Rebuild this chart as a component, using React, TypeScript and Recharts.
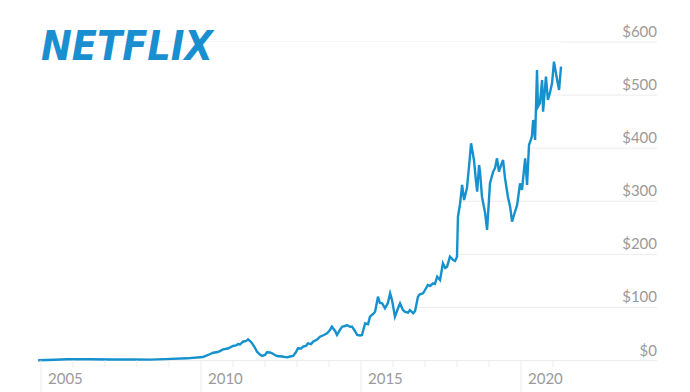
import React from "react";
import { ComposedChart, Area, Line, XAxis, YAxis, CartesianGrid } from "recharts";

// Decimal year of each observation
const years = [
  2004.91, 2005.44, 2005.81, 2006.53, 2007.16, 2007.88, 2008.41, 2008.88, 2009.56, 2010.06,
  2010.22, 2010.38, 2010.53, 2010.69, 2010.84, 2011.0, 2011.09, 2011.16, 2011.22, 2011.31,
  2011.41, 2011.47, 2011.53, 2011.59, 2011.69, 2011.75, 2011.84, 2011.91, 2012.0, 2012.06,
  2012.16, 2012.22, 2012.31, 2012.38, 2012.53, 2012.69, 2012.78, 2012.88, 2012.97, 2013.03,
  2013.13, 2013.19, 2013.28, 2013.34, 2013.44, 2013.5, 2013.63, 2013.72, 2013.84, 2013.94,
  2014.03, 2014.09, 2014.19, 2014.25, 2014.34, 2014.41, 2014.5, 2014.56, 2014.66, 2014.72,
  2014.81, 2014.88, 2014.97, 2015.03, 2015.13, 2015.22, 2015.28, 2015.38, 2015.44, 2015.53,
  2015.59, 2015.66, 2015.75, 2015.84, 2015.91, 2015.97, 2016.06, 2016.16, 2016.22, 2016.31,
  2016.38, 2016.47, 2016.53, 2016.63, 2016.69, 2016.78, 2016.84, 2016.94, 2017.0, 2017.09,
  2017.16, 2017.25, 2017.31, 2017.38, 2017.47, 2017.56, 2017.63, 2017.69, 2017.78, 2017.88,
  2017.94, 2018.0, 2018.03, 2018.09, 2018.16, 2018.22, 2018.31, 2018.38, 2018.44, 2018.53,
  2018.59, 2018.63, 2018.69, 2018.72, 2018.78, 2018.88, 2018.94, 2018.97, 2019.03, 2019.13,
  2019.19, 2019.25, 2019.31, 2019.38, 2019.44, 2019.5, 2019.59, 2019.66, 2019.72, 2019.78,
  2019.88, 2019.97, 2020.03, 2020.13, 2020.19, 2020.25, 2020.34, 2020.38, 2020.44, 2020.5,
  2020.53, 2020.59, 2020.66, 2020.69, 2020.78, 2020.84, 2020.91, 2020.97, 2021.03, 2021.13,
  2021.19, 2021.25,
];

// Share price (USD) at each observation
const prices = [
  0.4, 1.3, 2.3, 2.3, 1.9, 1.9, 1.7, 2.6, 4.1, 6.6,
  10.4, 14.7, 16, 21, 22.6, 27.3, 28.3, 31.1, 30.1, 35.4,
  36.7, 40, 36.7, 33, 23.5, 16.6, 11.3, 8.5, 10.4, 15.4,
  15.1, 13.6, 10.4, 8.5, 7.5, 6, 7.5, 8.5, 16, 23,
  22.6, 26, 27.3, 32.4, 31, 35.4, 39.6, 44.8, 48, 51.2,
  57.5, 63.7, 55.6, 48, 57.5, 63.7, 65, 66.9, 63.7, 63.7,
  55.6, 48, 47.1, 48, 70.1, 68.2, 82.5, 87.6, 91.9, 120.2,
  108.3, 107.8, 98.3, 108.3, 126.6, 114, 82.5, 98.9, 107.8, 95.1,
  91.4, 90, 95.1, 88.9, 93.3, 120.2, 124.7, 126.6, 132.8, 142.2,
  140.4, 145.4, 144.1, 157.9, 151.7, 183.1, 174.3, 176.7, 195.6, 189.3,
  187.5, 195.6, 270.9, 293, 330.6, 302.4, 324.4, 368.3, 409.2, 377.7,
  340, 318, 368.3, 355.1, 308.6, 277.3, 245.9, 274.1, 333.8, 355.7,
  362.7, 380.9, 355.7, 368.3, 377.7, 343.8, 308.6, 289.8, 261.5, 274.1,
  293, 333.8, 321.2, 380.9, 330.6, 406, 421.6, 453.1, 415.4, 547.3,
  478.1, 484.6, 528.5, 468.7, 534.7, 490.8, 505.8, 522.2, 562.9, 528.5,
  509.6, 553.5,
];

const yTicks = [0, 100, 200, 300, 400, 500, 600];
const xTicks = [2005, 2006, 2007, 2008, 2009, 2010, 2011, 2012, 2013, 2014, 2015, 2016, 2017, 2018, 2019, 2020, 2021];
const labeledYears = [2005, 2010, 2015, 2020];
const Y_MAX = 600;

const data = years.map((year, i) => ({ year, price: prices[i], mask: [prices[i], Y_MAX] }));

const LINE = "#1591cd";
const GRAY = "#9a9a9a";
const FONT = "Lato, 'Open Sans', sans-serif";

const XTick = (props: any) => {
  const { x, y, payload } = props;
  const labeled = labeledYears.includes(payload.value);
  return (
    <g>
      <line x1={x} y1={y} x2={x} y2={y + (labeled ? 32 : 7)} stroke="#ececec" strokeWidth={1} />
      {labeled && (
        <text x={x + 7} y={y + 23} fill={GRAY} fontSize={15} fontFamily={FONT} textAnchor="start">
          {payload.value}
        </text>
      )}
    </g>
  );
};

const YTick = (props: any) => {
  const { y, payload } = props;
  return (
    <text x={657} y={y - 5} fill={GRAY} fontSize={15} fontFamily={FONT} textAnchor="end">
      {`$${payload.value}`}
    </text>
  );
};

export default function App() {
  return (
    <div style={{ position: "absolute", left: 0, top: 0, width: 690, height: 392, background: "#fff" }}>
      <ComposedChart width={690} height={392} data={data} margin={{ top: 42, right: 3, left: 38, bottom: 1.5 }}>
        <CartesianGrid horizontal vertical={false} stroke="#ececec" />
        <XAxis
          dataKey="year"
          type="number"
          domain={[2004.906, 2024.25]}
          ticks={xTicks}
          interval={0}
          height={30}
          axisLine={false}
          tickLine={false}
          tickSize={0}
          tickMargin={0}
          tick={<XTick />}
          allowDataOverflow
        />
        <YAxis
          orientation="right"
          type="number"
          domain={[0, Y_MAX]}
          ticks={yTicks}
          width={30}
          axisLine={false}
          tickLine={false}
          tick={<YTick />}
          interval={0}
        />
        <Area
          type="linear"
          dataKey="mask"
          stroke="none"
          fill="#ffffff"
          fillOpacity={1}
          dot={false}
          activeDot={false}
          isAnimationActive={false}
        />
        <Line
          type="linear"
          dataKey="price"
          stroke={LINE}
          strokeWidth={2.4}
          dot={false}
          activeDot={false}
          isAnimationActive={false}
        />
      </ComposedChart>
      <svg width={690} height={100} style={{ position: "absolute", left: 0, top: 0, pointerEvents: "none" }}>
        <text
          x={41}
          y={60}
          fill="#1a8fd0"
          fontSize={40}
          fontWeight="bold"
          fontStyle="italic"
          fontFamily="'DejaVu Sans', sans-serif"
          textLength={172}
          lengthAdjust="spacingAndGlyphs"
        >
          NETFLIX
        </text>
      </svg>
    </div>
  );
}
